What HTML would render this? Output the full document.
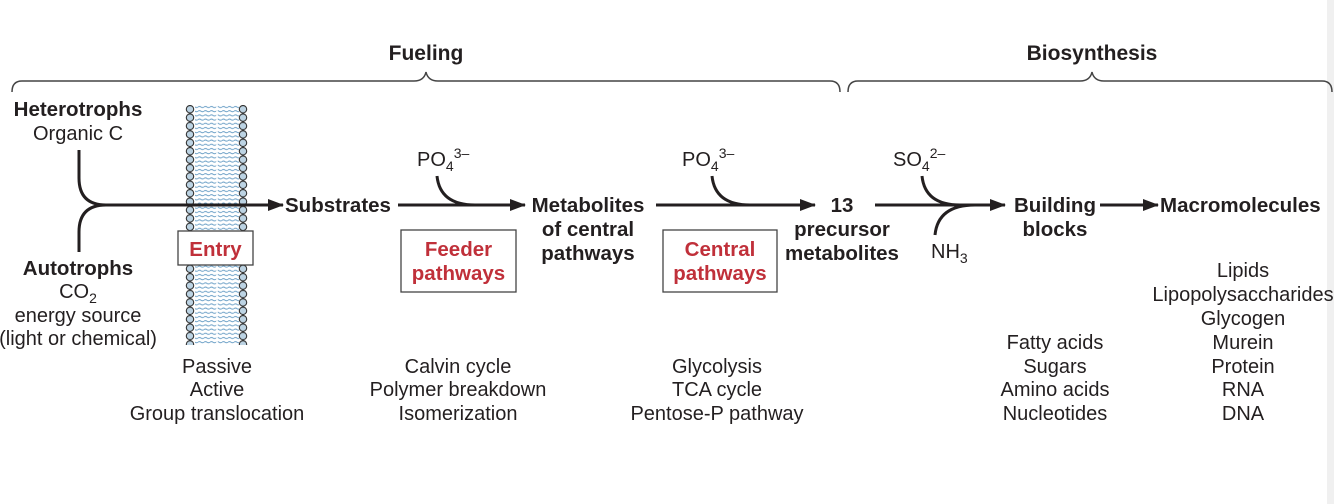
<!DOCTYPE html>
<html><head><meta charset="utf-8"><style>
html,body{margin:0;padding:0;background:#fff}
svg{display:block}
text{font-family:"Liberation Sans",sans-serif;fill:#231f20}
.b{font-weight:bold;font-size:20.5px}
.r{font-size:20px}
.red{fill:#c0303a;font-weight:bold;font-size:20.5px}
</style></head><body>
<svg width="1334" height="504" viewBox="0 0 1334 504" xmlns="http://www.w3.org/2000/svg">
<defs>
<marker id="ah" markerWidth="16" markerHeight="12" refX="15" refY="6" orient="auto" markerUnits="userSpaceOnUse" viewBox="0 0 16 12"><path d="M0,0 L16,6 L0,12 z" fill="#231f20"/></marker>
<pattern id="beadsL" x="185" y="105" width="10" height="8.4" patternUnits="userSpaceOnUse"><circle cx="5" cy="4.2" r="3.7" fill="#bcd3e3" stroke="#333" stroke-width="1.1"/></pattern>
<pattern id="beadsR" x="238" y="105" width="10" height="8.4" patternUnits="userSpaceOnUse"><circle cx="5" cy="4.2" r="3.7" fill="#bcd3e3" stroke="#333" stroke-width="1.1"/></pattern>
<pattern id="tails" x="0" y="105" width="6" height="4.2" patternUnits="userSpaceOnUse"><path d="M0,2 Q1.5,1 3,2 T6,2" fill="none" stroke="#6fa2c8" stroke-width="1"/></pattern>
</defs>
<rect x="1327" y="0" width="7" height="504" fill="#f0f0f0"/>
<text x="426" y="60" text-anchor="middle" class="b" style="font-size:21px">Fueling</text>
<text x="1092" y="60" text-anchor="middle" class="b" style="font-size:21px">Biosynthesis</text>
<g fill="none" stroke="#444" stroke-width="1.5">
<path d="M12,92 Q12,81 22,81 L414,81 Q424,81 426,72 Q428,81 438,81 L830,81 Q840,81 840,92"/>
<path d="M848,92 Q848,81 858,81 L1080,81 Q1090,81 1092,72 Q1094,81 1104,81 L1322,81 Q1332,81 1332,92"/>
</g>
<rect x="195" y="105" width="44" height="240" fill="url(#tails)"/>
<line x1="217" y1="105" x2="217" y2="345" stroke="#fff" stroke-width="1.5"/>
<rect x="185" y="105" width="10" height="240" fill="url(#beadsL)"/>
<rect x="238" y="105" width="10" height="240" fill="url(#beadsR)"/>
<text x="78" y="116" text-anchor="middle" class="b">Heterotrophs</text>
<text x="78" y="140" text-anchor="middle" class="r">Organic C</text>
<text x="78" y="275" text-anchor="middle" class="b">Autotrophs</text>
<text x="78" y="298" text-anchor="middle" class="r">CO<tspan dy="5" font-size="14">2</tspan></text>
<text x="78" y="322" text-anchor="middle" class="r">energy source</text>
<text x="78" y="345" text-anchor="middle" class="r">(light or chemical)</text>
<g fill="none" stroke="#231f20" stroke-width="3">
<path d="M79,150 L79,178 Q79,205 106,205"/>
<path d="M79,252 L79,232 Q79,205 106,205"/>
<path d="M104,205 L283,205" marker-end="url(#ah)"/>
<path d="M398,205 L525,205" marker-end="url(#ah)"/>
<path d="M437,176 Q440,205 475,205"/>
<path d="M656,205 L815,205" marker-end="url(#ah)"/>
<path d="M712,176 Q715,205 750,205"/>
<path d="M875,205 L1005,205" marker-end="url(#ah)"/>
<path d="M922,176 Q925,205 960,205"/>
<path d="M935,235 Q938,205 975,205"/>
<path d="M1100,205 L1158,205" marker-end="url(#ah)"/>
</g>
<rect x="178" y="231" width="75" height="34" fill="#fff" stroke="#444" stroke-width="1.3"/>
<text x="215.5" y="256" text-anchor="middle" class="red">Entry</text>
<text x="285" y="212" class="b">Substrates</text>
<text x="417" y="166" class="r">PO<tspan dy="5" font-size="14">4</tspan><tspan dy="-13" font-size="14">3–</tspan></text>
<rect x="401" y="230" width="115" height="62" fill="#fff" stroke="#444" stroke-width="1.3"/>
<text x="458.5" y="256" text-anchor="middle" class="red">Feeder</text>
<text x="458.5" y="280" text-anchor="middle" class="red">pathways</text>
<text x="588" y="212" text-anchor="middle" class="b">Metabolites</text>
<text x="588" y="236" text-anchor="middle" class="b">of central</text>
<text x="588" y="260" text-anchor="middle" class="b">pathways</text>
<text x="682" y="166" class="r">PO<tspan dy="5" font-size="14">4</tspan><tspan dy="-13" font-size="14">3–</tspan></text>
<rect x="663" y="230" width="114" height="62" fill="#fff" stroke="#444" stroke-width="1.3"/>
<text x="720" y="256" text-anchor="middle" class="red">Central</text>
<text x="720" y="280" text-anchor="middle" class="red">pathways</text>
<text x="842" y="212" text-anchor="middle" class="b">13</text>
<text x="842" y="236" text-anchor="middle" class="b">precursor</text>
<text x="842" y="260" text-anchor="middle" class="b">metabolites</text>
<text x="893" y="166" class="r">SO<tspan dy="5" font-size="14">4</tspan><tspan dy="-13" font-size="14">2–</tspan></text>
<text x="931" y="258" class="r">NH<tspan dy="5" font-size="14">3</tspan></text>
<text x="1055" y="212" text-anchor="middle" class="b">Building</text>
<text x="1055" y="236" text-anchor="middle" class="b">blocks</text>
<text x="1160" y="212" class="b">Macromolecules</text>
<g text-anchor="middle">
<text x="217" y="373" class="r">Passive</text>
<text x="217" y="396" class="r">Active</text>
<text x="217" y="420" class="r">Group translocation</text>
<text x="458" y="373" class="r">Calvin cycle</text>
<text x="458" y="396" class="r">Polymer breakdown</text>
<text x="458" y="420" class="r">Isomerization</text>
<text x="717" y="373" class="r">Glycolysis</text>
<text x="717" y="396" class="r">TCA cycle</text>
<text x="717" y="420" class="r">Pentose-P pathway</text>
<text x="1055" y="349" class="r">Fatty acids</text>
<text x="1055" y="373" class="r">Sugars</text>
<text x="1055" y="396" class="r">Amino acids</text>
<text x="1055" y="420" class="r">Nucleotides</text>
<text x="1243" y="277" class="r">Lipids</text>
<text x="1243" y="301" class="r">Lipopolysaccharides</text>
<text x="1243" y="325" class="r">Glycogen</text>
<text x="1243" y="349" class="r">Murein</text>
<text x="1243" y="373" class="r">Protein</text>
<text x="1243" y="396" class="r">RNA</text>
<text x="1243" y="420" class="r">DNA</text>
</g>
</svg>
</body></html>
